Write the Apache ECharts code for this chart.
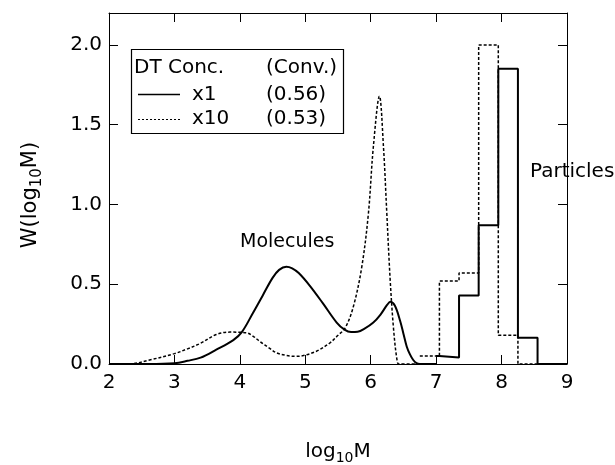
<!DOCTYPE html>
<html>
<head>
<meta charset="utf-8">
<script src="https://cdn.jsdelivr.net/npm/echarts@6/dist/echarts.min.js"></script>
<style>
  html, body { margin: 0; padding: 0; background: #fff; }
  #chart { width: 615px; height: 465px; }
</style>
</head>
<body>
<div id="chart"></div>
<script>
// x1 DT concentration: molecules (curve) + particles (histogram)
const x1Curve = [
  [2.0, 0], [2.6, 0], [3.0, 0.005], [3.2, 0.02], [3.4, 0.04], [3.64, 0.09],
  [3.9, 0.15], [4.03, 0.2], [4.2, 0.32], [4.35, 0.43], [4.5, 0.54], [4.6, 0.59],
  [4.71, 0.61], [4.8, 0.6], [4.9, 0.57], [5.07, 0.49], [5.27, 0.38], [5.48, 0.26],
  [5.6, 0.215], [5.7, 0.2], [5.8, 0.202], [5.9, 0.22], [6.04, 0.26], [6.15, 0.31],
  [6.25, 0.37], [6.3, 0.39], [6.37, 0.365], [6.45, 0.27], [6.5, 0.19], [6.55, 0.11],
  [6.6, 0.06], [6.65, 0.025], [6.7, 0.005], [6.75, 0], [7.0, 0]
];
const x1Hist = [
  [7.0, 0.05], [7.05, 0.04], [7.35, 0.43], [7.65, 0.87], [7.95, 1.85],
  [8.25, 0.165], [8.55, 0], [9.0, 0]
];

// x10 DT concentration
const x10Curve = [
  [2.0, 0], [2.3, 0], [2.62, 0.025], [3.0, 0.065], [3.2, 0.095], [3.4, 0.13],
  [3.64, 0.185], [3.85, 0.2], [4.1, 0.196], [4.2, 0.175], [4.31, 0.14], [4.45, 0.1],
  [4.56, 0.07], [4.7, 0.055], [4.85, 0.048], [4.97, 0.053], [5.17, 0.08], [5.37, 0.13],
  [5.5, 0.18], [5.61, 0.226], [5.735, 0.36], [5.864, 0.61], [5.965, 0.945], [6.04, 1.36],
  [6.133, 1.678], [6.195, 1.36], [6.246, 0.945], [6.297, 0.53], [6.35, 0.215],
  [6.4, 0.03], [6.43, 0], [6.75, 0]
];
const x10Hist = [
  [6.75, 0.05], [7.05, 0.52], [7.35, 0.57], [7.65, 2.0], [7.95, 0.18],
  [8.25, 0], [9.0, 0]
];

const legendRows = [
  ['DT Conc.', '(Conv.)'],
  ['x1', '(0.56)'],
  ['x10', '(0.53)']
];

const FONT = 'DejaVu Sans';
const solid = { color: '#000', width: 2, type: 'solid' };
const dotted = { color: '#000', width: 1.5, type: [3, 2] };

const chart = echarts.init(document.getElementById('chart'));

const frameAxis = (extra) => Object.assign({
  type: 'value',
  axisLine: { show: true, onZero: false, lineStyle: { color: '#000', width: 1 } },
  axisTick: { show: true, inside: true, length: 9, lineStyle: { color: '#000', width: 1 } },
  axisLabel: { show: false },
  splitLine: { show: false }
}, extra);

const lineSeries = (data, style, opts) => Object.assign({
  type: 'line',
  data: data,
  showSymbol: false,
  symbol: 'none',
  lineStyle: style,
  xAxisIndex: 0,
  yAxisIndex: 0,
  z: 3
}, opts);

const txt = (s, x, y, size) => ({
  type: 'text', x: x, y: y, z: 11,
  style: { text: s, font: size + 'px "DejaVu Sans"', fill: '#000', textVerticalAlign: 'middle' }
});

chart.setOption({
  animation: false,
  backgroundColor: '#fff',
  grid: { left: 109, right: 48, top: 13, bottom: 101 },
  xAxis: [
    frameAxis({
      min: 2, max: 9, interval: 1, position: 'bottom',
      axisLabel: { show: true, color: '#000', fontSize: 20, fontFamily: FONT, margin: 9 }
    }),
    frameAxis({ min: 2, max: 9, interval: 1, position: 'top' })
  ],
  yAxis: [
    frameAxis({
      min: 0, max: 2.2, interval: 0.5, position: 'left',
      axisLabel: {
        show: true, color: '#000', fontSize: 20, fontFamily: FONT, margin: 7,
        showMaxLabel: false,
        formatter: (v) => v.toFixed(1)
      }
    }),
    frameAxis({ min: 0, max: 2.2, interval: 0.5, position: 'right' })
  ],
  series: [
    lineSeries(x1Curve, solid, { smooth: 0.35 }),
    lineSeries(x1Hist, solid, { step: 'end' }),
    lineSeries(x10Curve, dotted, { smooth: 0.35 }),
    lineSeries(x10Hist, dotted, { step: 'end' })
  ],
  graphic: [
    // legend box
    {
      type: 'rect', shape: { x: 131.5, y: 49.5, width: 212, height: 84 },
      style: { fill: '#fff', stroke: '#000', lineWidth: 1.2 }, z: 10
    },
    txt(legendRows[0][0], 134, 68, 20),
    txt(legendRows[0][1], 266, 68, 20),
    { type: 'line', shape: { x1: 138, y1: 94.5, x2: 180, y2: 94.5 }, z: 11,
      style: { stroke: '#000', lineWidth: 1.5 } },
    txt(legendRows[1][0], 192, 95, 20),
    txt(legendRows[1][1], 266, 95, 20),
    { type: 'line', shape: { x1: 138, y1: 119.5, x2: 180, y2: 119.5 }, z: 11,
      style: { stroke: '#000', lineWidth: 1.2, lineDash: [2, 2] } },
    txt(legendRows[2][0], 192, 119, 20),
    txt(legendRows[2][1], 266, 119, 20),
    // annotations
    txt('Molecules', 240, 242, 19),
    txt('Particles', 530, 172, 20),
    // axis titles
    {
      type: 'text', x: 338, y: 452, z: 11,
      style: {
        text: '{a|log}{b|10}{a|M}',
        textAlign: 'center', textVerticalAlign: 'middle',
        rich: {
          a: { fontSize: 20, fontFamily: FONT, fill: '#000', lineHeight: 24 },
          b: { fontSize: 14, fontFamily: FONT, fill: '#000', lineHeight: 24, padding: [12, 0, 0, 0] }
        }
      }
    },
    {
      type: 'text', x: 31, y: 195, rotation: Math.PI / 2, z: 11,
      style: {
        text: '{a|W(log}{b|10}{a|M)}',
        textAlign: 'center', textVerticalAlign: 'middle',
        rich: {
          a: { fontSize: 21, fontFamily: FONT, fill: '#000', lineHeight: 26 },
          b: { fontSize: 15, fontFamily: FONT, fill: '#000', lineHeight: 26, padding: [13, 0, 0, 0] }
        }
      }
    }
  ]
});
</script>
</body>
</html>
